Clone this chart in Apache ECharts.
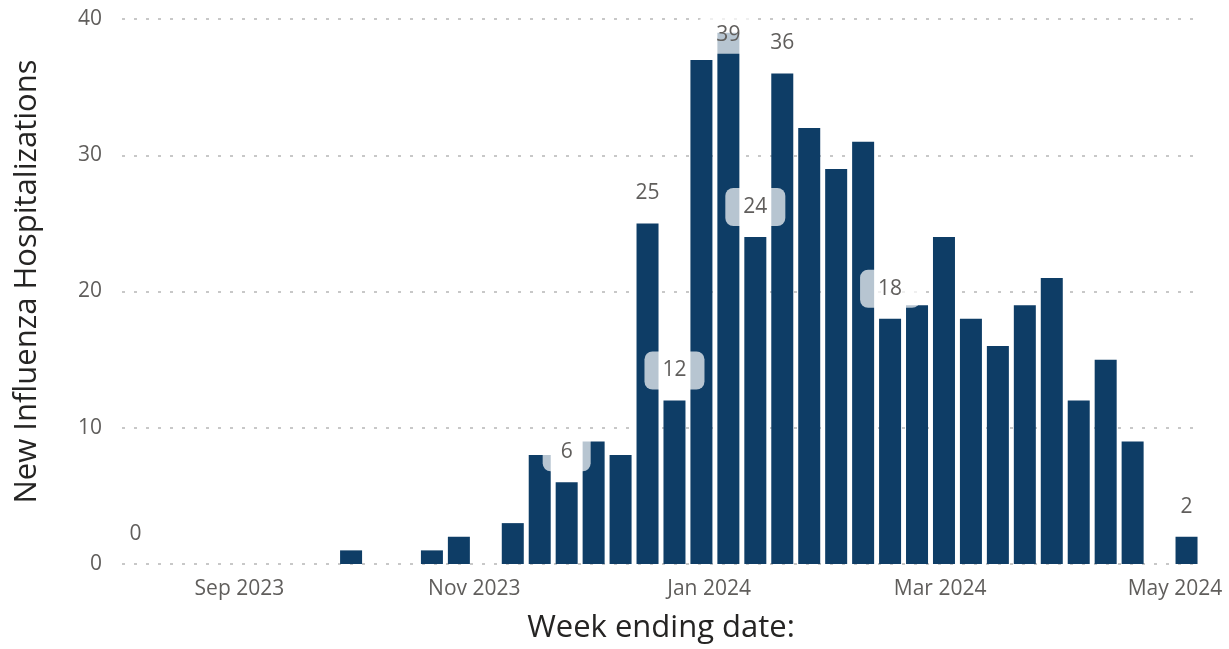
<!DOCTYPE html>
<html>
<head>
<meta charset="utf-8">
<script src="https://cdn.jsdelivr.net/npm/echarts@6/dist/echarts.min.js"></script>
<style>
html,body{margin:0;padding:0;background:#fff;}
#chart{width:1229px;height:649px;}
</style>
</head>
<body>
<div id="chart"></div>
<script>
// Week ending dates (Saturdays)
const weeks = [
  '2023-08-05','2023-08-12','2023-08-19','2023-08-26','2023-09-02','2023-09-09','2023-09-16','2023-09-23','2023-09-30',
  '2023-10-07','2023-10-14','2023-10-21','2023-10-28','2023-11-04','2023-11-11','2023-11-18','2023-11-25',
  '2023-12-02','2023-12-09','2023-12-16','2023-12-23','2023-12-30','2024-01-06','2024-01-13','2024-01-20','2024-01-27',
  '2024-02-03','2024-02-10','2024-02-17','2024-02-24','2024-03-02','2024-03-09','2024-03-16','2024-03-23','2024-03-30',
  '2024-04-06','2024-04-13','2024-04-20','2024-04-27','2024-05-04'
];
const hospitalizations = [
  0,0,0,0,0,0,0,0,1,
  0,0,1,2,0,3,8,6,
  9,8,25,12,37,39,24,36,32,
  29,31,18,19,24,18,16,19,21,
  12,15,9,0,2
];
// Weeks whose data label is visible in the reference
const labelledWeeks = ['2023-08-05','2023-11-25','2023-12-16','2023-12-23','2024-01-06','2024-01-13','2024-01-20','2024-02-17','2024-05-04'];
const tickDates = ['2023-09-01','2023-11-01','2024-01-01','2024-03-01','2024-05-01'];
const monthNames = ['Jan','Feb','Mar','Apr','May','Jun','Jul','Aug','Sep','Oct','Nov','Dec'];
const yTicks = [0,10,20,30,40];

function ts(s){ const p = s.split('-').map(Number); return new Date(p[0], p[1]-1, p[2]).getTime(); }
const HALF_DAY = 12*3600*1000;

const FONT = '"Open Sans", "Noto Sans", sans-serif';
const barColor = '#0E3D66';

const data = weeks.map((w, i) => {
  const item = { value: [ts(w), hospitalizations[i]] };
  if (labelledWeeks.includes(w)) {
    item.label = { show: true };
    if (hospitalizations[i] === 39) item.label.distance = -21;
  }
  return item;
});

const chart = echarts.init(document.getElementById('chart'), null, {renderer:'canvas'});
chart.setOption({
  animation: false,
  backgroundColor: '#ffffff',
  grid: { left: 122, right: 29, top: 19, bottom: 84, containLabel: false },
  xAxis: {
    type: 'value',
    scale: true,
    min: ts('2023-08-01') + HALF_DAY,
    max: ts('2024-05-07') + HALF_DAY,
    name: 'Week ending date:',
    nameLocation: 'middle',
    nameGap: 49,
    nameTextStyle: { fontFamily: FONT, fontSize: 31, color: '#252423' },
    axisLine: { show: false },
    axisTick: { show: false },
    splitLine: { show: false },
    axisLabel: {
      customValues: tickDates.map(ts),
      fontFamily: FONT, fontSize: 21, color: '#605E5C', margin: 15,
      formatter: function (v) { const d = new Date(v); return monthNames[d.getMonth()] + ' ' + d.getFullYear(); }
    }
  },
  yAxis: {
    type: 'value',
    min: yTicks[0], max: yTicks[yTicks.length-1], interval: 10,
    name: 'New Influenza Hospitalizations',
    nameLocation: 'middle',
    nameGap: 79,
    nameTextStyle: { fontFamily: FONT, fontSize: 31, color: '#252423', padding: [0,0,0,20] },
    axisLine: { show: false },
    axisTick: { show: false },
    axisLabel: { fontFamily: FONT, fontSize: 21, color: '#605E5C', margin: 20 },
    splitLine: { show: true, lineStyle: { color: '#C8C8C8', width: 2, type: [3, 9] } }
  },
  series: [{
    type: 'bar',
    data: data,
    barWidth: 22,
    itemStyle: { color: barColor },
    label: {
      show: false,
      position: 'top',
      distance: 11,
      fontFamily: FONT, fontSize: 21, color: '#605E5C',
      backgroundColor: 'rgba(255,255,255,0.7)',
      borderRadius: 8,
      padding: [6, 18],
      lineHeight: 26
    }
  }]
});
</script>
</body>
</html>
